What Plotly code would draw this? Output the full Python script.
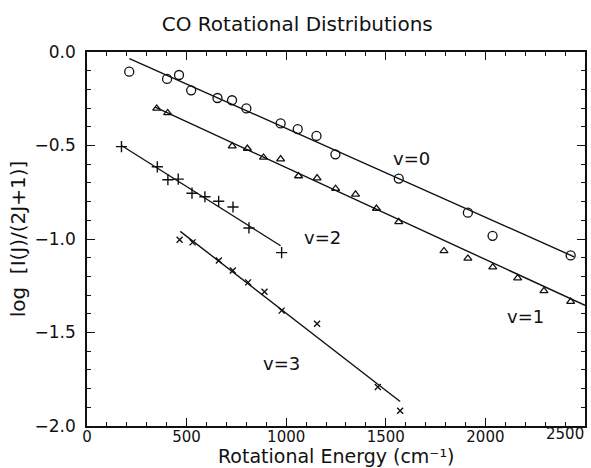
import plotly.graph_objects as go

# ---- data ----
v0_E = [212, 402, 462, 523, 655, 728, 800, 972, 1058, 1152, 1247, 1565, 1912, 2036, 2428]
v0_y = [-0.105, -0.144, -0.123, -0.205, -0.246, -0.258, -0.302, -0.382, -0.412, -0.449,
        -0.547, -0.677, -0.859, -0.983, -1.088]

v1_E = [350, 405, 729, 805, 886, 972, 1062, 1155, 1248, 1348, 1453, 1565, 1792, 1912,
        2037, 2162, 2294, 2428]
v1_y = [-0.302, -0.326, -0.503, -0.516, -0.564, -0.573, -0.663, -0.674, -0.731, -0.761,
        -0.837, -0.908, -1.064, -1.104, -1.150, -1.209, -1.277, -1.335]

v2_E = [173, 353, 406, 458, 527, 592, 661, 733, 813, 977]
v2_y = [-0.506, -0.614, -0.683, -0.680, -0.755, -0.774, -0.798, -0.829, -0.941, -1.073]

v3_E = [465, 530, 662, 732, 809, 891, 977, 1155, 1460, 1572]
v3_y = [-1.004, -1.018, -1.115, -1.168, -1.232, -1.282, -1.383, -1.453, -1.792, -1.919]

# fitted straight lines (end points)
fit_v0_E = [213, 2445]
fit_v0_y = [-0.035, -1.095]
fit_v1_E = [342, 2500]
fit_v1_y = [-0.295, -1.355]
fit_v2_E = [173, 972]
fit_v2_y = [-0.500, -1.036]
fit_v3_E = [468, 1572]
fit_v3_y = [-0.959, -1.869]

series_labels = ["v=0", "v=1", "v=2", "v=3"]
label_E = [1630, 2200, 1180, 975]
label_y = [-0.57, -1.415, -0.99, -1.665]

x_tickvals = [0, 500, 1000, 1500, 2000, 2500]
x_ticktext = ["0", "500", "1000", "1500", "2000", ""]
x_last_label = "2500"
y_tickvals = [0.0, -0.5, -1.0, -1.5, -2.0]
y_ticktext = ["0.0", "\u22120.5", "\u22121.0", "\u22121.5", "\u22122.0"]
x_title = "Rotational Energy (cm\u207b\u00b9)"

FONT = "DejaVu Sans"
INK = "#111111"
H = 468
B = 42

fig = go.Figure()

for fx, fy in [(fit_v0_E, fit_v0_y), (fit_v1_E, fit_v1_y),
               (fit_v2_E, fit_v2_y), (fit_v3_E, fit_v3_y)]:
    fig.add_trace(go.Scatter(x=fx, y=fy, mode="lines",
                             line=dict(color=INK, width=1.4), showlegend=False))

fig.add_trace(go.Scatter(x=v0_E, y=v0_y, mode="markers", showlegend=False,
                         marker=dict(symbol="circle-open", size=9, color=INK,
                                     line=dict(width=1.3))))
fig.add_trace(go.Scatter(x=v1_E, y=v1_y, mode="markers", showlegend=False,
                         marker=dict(symbol="triangle-up-open", size=7, color=INK,
                                     line=dict(width=1.3))))
fig.add_trace(go.Scatter(x=v2_E, y=v2_y, mode="markers", showlegend=False,
                         marker=dict(symbol="cross-thin-open", size=8, color=INK,
                                     line=dict(width=1.4))))
fig.add_trace(go.Scatter(x=v3_E, y=v3_y, mode="markers", showlegend=False,
                         marker=dict(symbol="x-thin-open", size=6, color=INK,
                                     line=dict(width=1.4))))

for t, ex, ey in zip(series_labels, label_E, label_y):
    fig.add_annotation(x=ex, y=ey, text=t, showarrow=False,
                       font=dict(family=FONT, size=18, color=INK))

# last x tick label, kept inside the page like in the reference
fig.add_annotation(x=x_tickvals[-1], y=0, xref="x", yref="paper", text=x_last_label,
                   showarrow=False, xanchor="right", yanchor="top", yshift=2,
                   borderpad=0, font=dict(family=FONT, size=15, color=INK))

# x-axis title, placed at the bottom of the page
fig.add_annotation(x=0.5, y=0, xref="paper", yref="paper", text=x_title,
                   showarrow=False, xanchor="center", yanchor="bottom",
                   yshift=-B, borderpad=0,
                   font=dict(family=FONT, size=19, color=INK))

axis_common = dict(
    showgrid=False, zeroline=False, showline=True, linecolor=INK, linewidth=1.5,
    mirror="ticks", ticks="inside", ticklen=8, tickwidth=1.3, tickcolor=INK,
)

fig.update_xaxes(range=[0, 2500], tickmode="array", tickvals=x_tickvals,
                 ticktext=x_ticktext, tickfont=dict(family=FONT, size=15, color=INK),
                 ticklabelstandoff=-4,
                 minor=dict(dtick=100, tick0=0, ticks="inside", ticklen=4, tickwidth=1.1,
                            tickcolor=INK),
                 **axis_common)
fig.update_yaxes(range=[-2.0, 0.0], tickmode="array", tickvals=y_tickvals,
                 ticktext=y_ticktext, ticklabelstandoff=6,
                 tickfont=dict(family=FONT, size=17, color=INK),
                 minor=dict(dtick=0.1, tick0=0, ticks="inside", ticklen=4, tickwidth=1.1,
                            tickcolor=INK),
                 title=dict(text="log  [I(J)/(2J+1)]",
                            font=dict(family=FONT, size=20, color=INK), standoff=4),
                 **axis_common)

fig.update_layout(
    width=591, height=H,
    margin=dict(l=87, r=4, t=52, b=B),
    paper_bgcolor="white", plot_bgcolor="white",
    title=dict(text="CO Rotational Distributions", x=0.503, xanchor="center",
               y=0.949, yanchor="middle",
               font=dict(family=FONT, size=20, color=INK)),
)

fig.write_html("out.html")
